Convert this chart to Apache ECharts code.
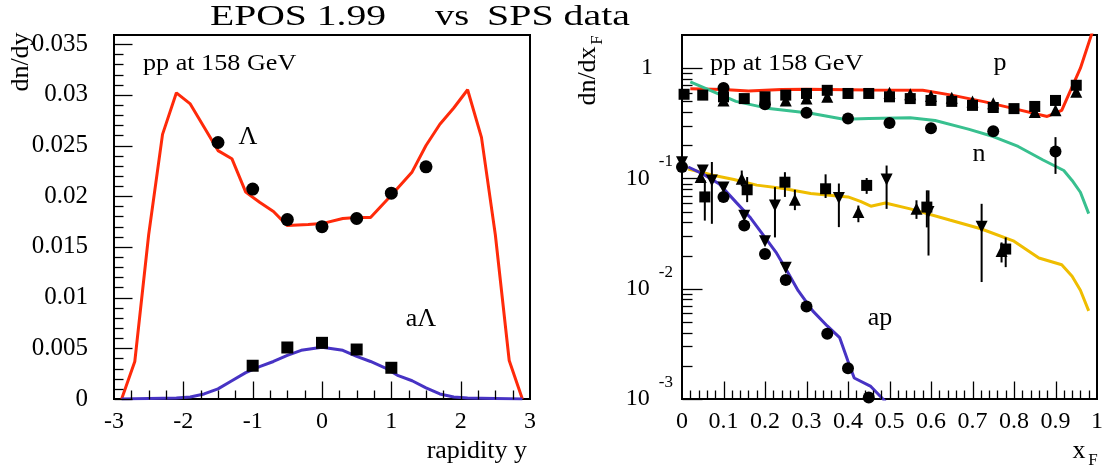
<!DOCTYPE html>
<html><head><meta charset="utf-8">
<script src="https://cdn.jsdelivr.net/npm/echarts@6/dist/echarts.min.js"></script>
<style>html,body{margin:0;padding:0;background:#fff}#c{width:1106px;height:469px}</style>
</head><body><div id="c"></div>
<script>
// ---------- left panel: Lambda / anti-Lambda vs rapidity ----------
const lamModelX = [-2.89,-2.7,-2.5,-2.3,-2.1,-1.9,-1.7,-1.5,-1.3,-1.1,-0.9,-0.7,-0.5,-0.2,0,0.3,0.5,0.7,1.0,1.3,1.5,1.7,1.9,2.1,2.3,2.5,2.7,2.89];
const lamModelY = [0,0.0037,0.0162,0.0261,0.0302,0.0291,0.0268,0.0245,0.0237,0.0204,0.0194,0.0185,0.0171,0.0172,0.0173,0.0178,0.0179,0.0179,0.0201,0.0224,0.0250,0.0271,0.0287,0.0305,0.0258,0.0162,0.0038,0];
const lamDataX = [-1.5,-1,-0.5,0,0.5,1,1.5];
const lamDataY = [0.0253,0.0207,0.0177,0.0170,0.0178,0.0203,0.0229];
const alamModelX = [-2.89,-2.1,-1.9,-1.7,-1.5,-1.3,-1.1,-0.9,-0.7,-0.5,-0.3,0,0.3,0.5,0.7,0.9,1.1,1.3,1.5,1.7,1.9,2.1,2.89];
const alamModelY = [0,0.0001,0.0002,0.0005,0.001,0.0018,0.0026,0.0032,0.0037,0.0043,0.0048,0.0051,0.0048,0.0042,0.0037,0.0031,0.0023,0.0018,0.0011,0.0005,0.0002,0.0001,0];
const alamDataX = [-1,-0.5,0,0.5,1];
const alamDataY = [0.00328,0.00508,0.00554,0.00488,0.00308];

const leftXMajor = [-2,-1,0,1,2];
const leftXMinor = [-2.75,-2.5,-2.25,-1.75,-1.5,-1.25,-0.75,-0.5,-0.25,0.25,0.5,0.75,1.25,1.5,1.75,2.25,2.5,2.75];
const leftYMajor = [0,0.005,0.01,0.015,0.02,0.025,0.03,0.035];
const leftYMinor = [0.001,0.002,0.003,0.004,0.006,0.007,0.008,0.009,0.011,0.012,0.013,0.014,0.016,0.017,0.018,0.019,0.021,0.022,0.023,0.024,0.026,0.027,0.028,0.029,0.031,0.032,0.033,0.034];

// ---------- right panel: dn/dxF (log) ----------
const pModelX = [0.02,0.1,0.16,0.24,0.3,0.45,0.58,0.65,0.73,0.8,0.88,0.915,0.96,0.99];
const pModelY = [0.65,0.64,0.62,0.64,0.645,0.635,0.63,0.57,0.495,0.43,0.365,0.415,1.0,2.2];
const nModelX = [0.02,0.13,0.21,0.31,0.39,0.45,0.55,0.61,0.69,0.75,0.81,0.87,0.92,0.94,0.96,0.98];
const nModelY = [0.75,0.50,0.43,0.39,0.345,0.35,0.356,0.335,0.28,0.24,0.195,0.147,0.118,0.096,0.075,0.048];
const yelModelX = [0.015,0.075,0.125,0.18,0.245,0.31,0.40,0.43,0.455,0.49,0.55,0.645,0.72,0.80,0.86,0.915,0.94,0.96,0.98];
const yelModelY = [0.122,0.107,0.098,0.087,0.081,0.073,0.068,0.062,0.056,0.060,0.053,0.042,0.035,0.027,0.019,0.0165,0.013,0.0097,0.0063];
const apModelX = [0.015,0.05,0.09,0.13,0.165,0.195,0.228,0.25,0.28,0.315,0.35,0.38,0.40,0.415,0.455,0.49];
const apModelY = [0.127,0.11,0.089,0.061,0.044,0.031,0.021,0.0152,0.0096,0.0063,0.0046,0.0036,0.0022,0.00155,0.0013,0.00095];

const pSqX = [0.005,0.05,0.1,0.15,0.2,0.25,0.3,0.35,0.4,0.45,0.5,0.55,0.6,0.65,0.7,0.75,0.8,0.85,0.9,0.95];
const pSqY = [0.58,0.57,0.55,0.53,0.55,0.57,0.59,0.63,0.59,0.59,0.55,0.53,0.51,0.50,0.46,0.44,0.43,0.45,0.51,0.70];
const pTriX = [0.1,0.25,0.3,0.35,0.5,0.55,0.6,0.65,0.7,0.75,0.85,0.9,0.95];
const pTriY = [0.51,0.51,0.53,0.55,0.60,0.58,0.56,0.54,0.50,0.48,0.40,0.415,0.61];

const nDatX = [0.1,0.2,0.3,0.4,0.5,0.6,0.75,0.9];
const nDatY = [0.66,0.47,0.395,0.349,0.318,0.285,0.268,0.176];
const nErrX = [0.9];
const nErrLo = [0.110];
const nErrHi = [0.237];

const ySqX = [0.055,0.157,0.248,0.346,0.445,0.59,0.78];
const ySqY = [0.068,0.079,0.0925,0.0806,0.0865,0.055,0.0229];
const ySqLo = [0.0415,0.061,0.068,0.0665,0.0725,0.036,0.0157];
const ySqHi = [0.096,0.103,0.114,0.109,0.101,0.078,0.0292];
const yUtX = [0.045,0.144,0.272,0.425,0.565,0.77];
const yUtY = [0.103,0.0995,0.064,0.0497,0.053,0.022];
const yUtLo = [0.095,0.085,0.0516,0.0401,0.043,0.0173];
const yUtHi = [0.11,0.118,0.079,0.0568,0.0634,0.0263];
const yDtX = [0.072,0.224,0.378,0.493,0.594,0.722];
const yDtY = [0.096,0.0568,0.0666,0.098,0.0497,0.0364];
const yDtLo = [0.0388,0.0292,0.0362,0.053,0.020,0.0115];
const yDtHi = [0.141,0.0834,0.09,0.131,0.078,0.0589];

const apCX = [0.0,0.1,0.15,0.2,0.25,0.3,0.35,0.4,0.45];
const apCY = [0.127,0.068,0.0375,0.0207,0.012,0.0069,0.0039,0.0019,0.00103];
const apTX = [0.0,0.05,0.1,0.15,0.2,0.25];
const apTY = [0.14,0.118,0.083,0.046,0.027,0.0155];

const rightXMajor = [0.1,0.2,0.3,0.4,0.5,0.6,0.7,0.8,0.9];
const rightXMinor = [0.02,0.04,0.06,0.08,0.12,0.14,0.16,0.18,0.22,0.24,0.26,0.28,0.32,0.34,0.36,0.38,0.42,0.44,0.46,0.48,0.52,0.54,0.56,0.58,0.62,0.64,0.66,0.68,0.72,0.74,0.76,0.78,0.82,0.84,0.86,0.88,0.92,0.94,0.96,0.98];
const rightYMajor = [0.001,0.01,0.1,1];
const rightYMinor = [0.002,0.003,0.004,0.005,0.006,0.007,0.008,0.009,0.02,0.03,0.04,0.05,0.06,0.07,0.08,0.09,0.2,0.3,0.4,0.5,0.6,0.7,0.8,0.9];

// ---------- build ----------
const zip = (xs, ys) => xs.map((x, i) => [x, ys[i]]);
const zip3 = (xs, a, b) => xs.map((x, i) => [x, a[i], b[i]]);
const FONT = 'Liberation Serif';
const RED = '#ff2a0a', BLUE = '#4733c4', GREEN = '#38c08f', YEL = '#efbd00';

const G = [
  {left:114, top:35, w:416, h:364, xMin:-3, xMax:3, yMin:0, yMax:0.0359, logY:false},
  {left:682, top:35, w:415, h:364, xMin:0, xMax:1, yMin:0.001, yMax:2, logY:true}
];

const errData = [].concat(
  zip3(nErrX, nErrLo, nErrHi), zip3(ySqX, ySqLo, ySqHi),
  zip3(yUtX, yUtLo, yUtHi), zip3(yDtX, yDtLo, yDtHi));

const lineS = (data, color, xi, yi) => ({type:'line', data, xAxisIndex:xi, yAxisIndex:yi, symbol:'none',
  lineStyle:{color, width:3}, z:2, silent:true, clip:true});
const scat = (data, symbol, size, xi, yi, rot) => ({type:'scatter', data, xAxisIndex:xi, yAxisIndex:yi,
  symbol, symbolSize:size, symbolRotate: rot || 0, itemStyle:{color:'#000', opacity:1}, z:4, silent:true, clip:true});

const axLine = {show:true, onZero:false, lineStyle:{color:'#000', width:2}};

const txt = (text, x, y, size, align, extra) => Object.assign({type:'text', x, y, z:50,
  style:{text, font: size + 'px "Liberation Serif"', fill:'#000', align, verticalAlign:'middle'}}, extra || {});

const texts = [
  txt('EPOS 1.99', 210, 17, 30, 'left', {scaleX:1.32}),
  txt('vs', 435, 17, 30, 'left', {scaleX:1.28}),
  txt('SPS data', 487, 17, 30, 'left', {scaleX:1.33}),
  txt('pp at 158 GeV', 143, 64, 24, 'left', {scaleX:1.09}),
  txt('pp at 158 GeV', 710, 64, 24, 'left', {scaleX:1.09}),
  txt('Λ', 248, 137, 26, 'center'),
  txt('aΛ', 421, 319, 26, 'center'),
  txt('p', 1000, 63, 26, 'center'),
  txt('n', 979, 154, 26, 'center'),
  txt('ap', 880, 318, 26, 'center'),
  txt('dn/dy', 21, 62, 26, 'center', {rotation:Math.PI/2}),
  txt('rapidity y', 527, 451, 26, 'right'),
  txt('dn/dx', 588, 76, 26, 'center', {rotation:Math.PI/2}),
  txt('F', 598, 40, 17, 'center', {rotation:Math.PI/2}),
  txt('x', 1079, 451, 26, 'center'),
  txt('F', 1093, 461, 17, 'center')
];

const chart = echarts.init(document.getElementById('c'), null, {renderer:'canvas'});
chart.setOption({
  animation:false,
  backgroundColor:'#fff',
  grid: G.map(g => ({left:g.left, top:g.top, width:g.w, height:g.h, show:true, borderColor:'#000', borderWidth:2, backgroundColor:'transparent'})),
  xAxis:[
    {type:'value', gridIndex:0, min:G[0].xMin, max:G[0].xMax, interval:1, axisLine:axLine, axisTick:{show:false},
     axisLabel:{margin:11, fontFamily:FONT, fontSize:24, color:'#000'}, splitLine:{show:false}},
    {type:'value', gridIndex:1, min:G[1].xMin, max:G[1].xMax, interval:0.1, axisLine:axLine, axisTick:{show:false},
     axisLabel:{margin:11, fontFamily:FONT, fontSize:24, color:'#000', formatter: v => String(+v.toFixed(2))},
     splitLine:{show:false}}
  ],
  yAxis:[
    {type:'value', gridIndex:0, min:G[0].yMin, max:G[0].yMax, position:'left', axisLine:axLine, axisTick:{show:false},
     axisLabel:{margin:26, customValues:leftYMajor, fontFamily:FONT, fontSize:25, color:'#000',
       formatter: v => String(+v.toFixed(3))},
     splitLine:{show:false}},
    {type:'log', logBase:10, gridIndex:1, min:G[1].yMin, max:G[1].yMax, position:'left', axisLine:axLine, axisTick:{show:false},
     axisLabel:{margin:9, customValues:rightYMajor, color:'#000', fontFamily:FONT,
       formatter: v => {
         const e = Math.round(Math.log10(v));
         if (e === 0) return '{n|1}{g| }';
         return '{n|10}{s|' + e + '}';
       },
       rich:{
         n:{fontFamily:FONT, fontSize:24, color:'#000', lineHeight:50, verticalAlign:'middle'},
         s:{fontFamily:FONT, fontSize:17, color:'#000', lineHeight:17, verticalAlign:'top', padding:[0,0,0,9]},
         g:{fontFamily:FONT, fontSize:17, width:20, lineHeight:17}
       }},
     splitLine:{show:false}}
  ],
  series:[
    lineS(zip(lamModelX, lamModelY), RED, 0, 0),
    lineS(zip(alamModelX, alamModelY), BLUE, 0, 0),
    scat(zip(lamDataX, lamDataY), 'circle', 13, 0, 0),
    scat(zip(alamDataX, alamDataY), 'rect', 12, 0, 0),

    lineS(zip(pModelX, pModelY), RED, 1, 1),
    lineS(zip(nModelX, nModelY), GREEN, 1, 1),
    lineS(zip(yelModelX, yelModelY), YEL, 1, 1),
    lineS(zip(apModelX, apModelY), BLUE, 1, 1),
    {type:'custom', xAxisIndex:1, yAxisIndex:1, data:errData, encode:{x:0, y:[1,2]}, clip:true, z:3, silent:true,
     renderItem:(params, api) => {
       const a = api.coord([api.value(0), api.value(1)]);
       const b = api.coord([api.value(0), api.value(2)]);
       return {type:'line', shape:{x1:a[0], y1:a[1], x2:b[0], y2:b[1]}, style:{stroke:'#000', lineWidth:2}};
     }},
    scat(zip(pTriX, pTriY), 'triangle', 12, 1, 1),
    scat(zip(pSqX, pSqY), 'rect', 11, 1, 1),
    scat(zip(nDatX, nDatY), 'circle', 12, 1, 1),
    scat(zip(ySqX, ySqY), 'rect', 11, 1, 1),
    scat(zip(yUtX, yUtY), 'triangle', 12, 1, 1),
    scat(zip(yDtX, yDtY), 'triangle', 12, 1, 1, 180),
    scat(zip(apCX, apCY), 'circle', 12, 1, 1),
    scat(zip(apTX, apTY), 'triangle', 12, 1, 1, 180)
  ],
  graphic: texts
});

// ---- tick marks inside the frames (drawn on their own top canvas layer) ----
// position from the chart's axes (convertToPixel); if that is unavailable, from the grid's own linear/log mapping
const toPx = (gi, pt) => {
  let p = null;
  try { p = chart.convertToPixel({gridIndex: gi}, pt); } catch (e) { p = null; }
  if (p && isFinite(p[0]) && isFinite(p[1])) return p;
  const g = G[gi];
  const fx = (pt[0] - g.xMin) / (g.xMax - g.xMin);
  const fy = g.logY ? (Math.log10(pt[1]) - Math.log10(g.yMin)) / (Math.log10(g.yMax) - Math.log10(g.yMin))
                    : (pt[1] - g.yMin) / (g.yMax - g.yMin);
  return [g.left + fx * g.w, g.top + g.h - fy * g.h];
};
const tickEls = [];
const addTicks = (vals, dir, gi, len) => {
  const g = G[gi];
  vals.forEach(v => {
    const p = toPx(gi, dir === 'x' ? [v, g.yMin] : [g.xMin, v]);
    const x = Math.round(p[0]) + 0.5, y = Math.round(p[1]) + 0.5;
    tickEls.push({type:'line', zlevel:1, z:100, silent:true,
      shape: dir === 'x' ? {x1:x, y1:y, x2:x, y2:y - len} : {x1:x, y1:y, x2:x + len, y2:y},
      style:{stroke:'#000', lineWidth:1.3}});
  });
};
addTicks(leftXMajor, 'x', 0, 18);
addTicks(leftXMinor, 'x', 0, 9);
addTicks(leftYMajor, 'y', 0, 18);
addTicks(leftYMinor, 'y', 0, 9);
addTicks(rightXMajor, 'x', 1, 18);
addTicks(rightXMinor, 'x', 1, 9);
addTicks(rightYMajor, 'y', 1, 20);
addTicks(rightYMinor, 'y', 1, 10);
chart.setOption({graphic: texts.concat(tickEls)});
</script></body></html>
